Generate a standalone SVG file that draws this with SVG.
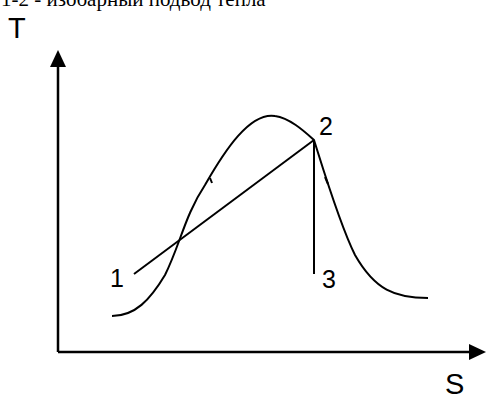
<svg xmlns="http://www.w3.org/2000/svg" width="486" height="397" viewBox="0 0 486 397">
<style>
.ax{stroke:#000;stroke-width:2.5;fill:none}
.ln{stroke:#000;stroke-width:2;fill:none}
.lbl{font-family:"Liberation Sans",Arial,sans-serif;font-size:25px;fill:#000}
.big{font-size:29px}
.ttl{font-family:"Liberation Serif","Times New Roman",serif;font-size:21px;fill:#000}
</style>
<rect width="486" height="397" fill="#fff"/>
<text class="ttl" x="1" y="6">1-2 - изобарный подвод тепла</text>
<g id="axes">
<path class="ax" d="M58,352 L58,66"/>
<path d="M50,67 L58,50 L66,67 Z" fill="#000"/>
<path class="ax" d="M58,352 L470,352"/>
<path d="M469,344 L486,352 L469,360 Z" fill="#000"/>
<text class="lbl big" x="8" y="38">T</text>
<text class="lbl big" x="445" y="394">S</text>
</g>
<g id="curve">
<path class="ln" d="M112,316 C135,316 150,300 165,275 C180,245 185,215 205,185 C225,150 250,112 275,116 C290,118 305,132 314,140 C325,175 340,225 355,255 C375,290 395,298 428,298"/>
<path class="ln" d="M210,178 L212,183"/>
<path class="ln" d="M325,177 L328,184"/>
</g>
<g id="connectors">
<path class="ln" d="M134,274 L314,140"/>
<path class="ln" d="M314,140 L314,274"/>
</g>
<g id="n1"><text class="lbl" x="110" y="287">1</text></g>
<g id="n2"><text class="lbl" x="319" y="135">2</text></g>
<g id="n3"><text class="lbl" x="322" y="288">3</text></g>
</svg>
